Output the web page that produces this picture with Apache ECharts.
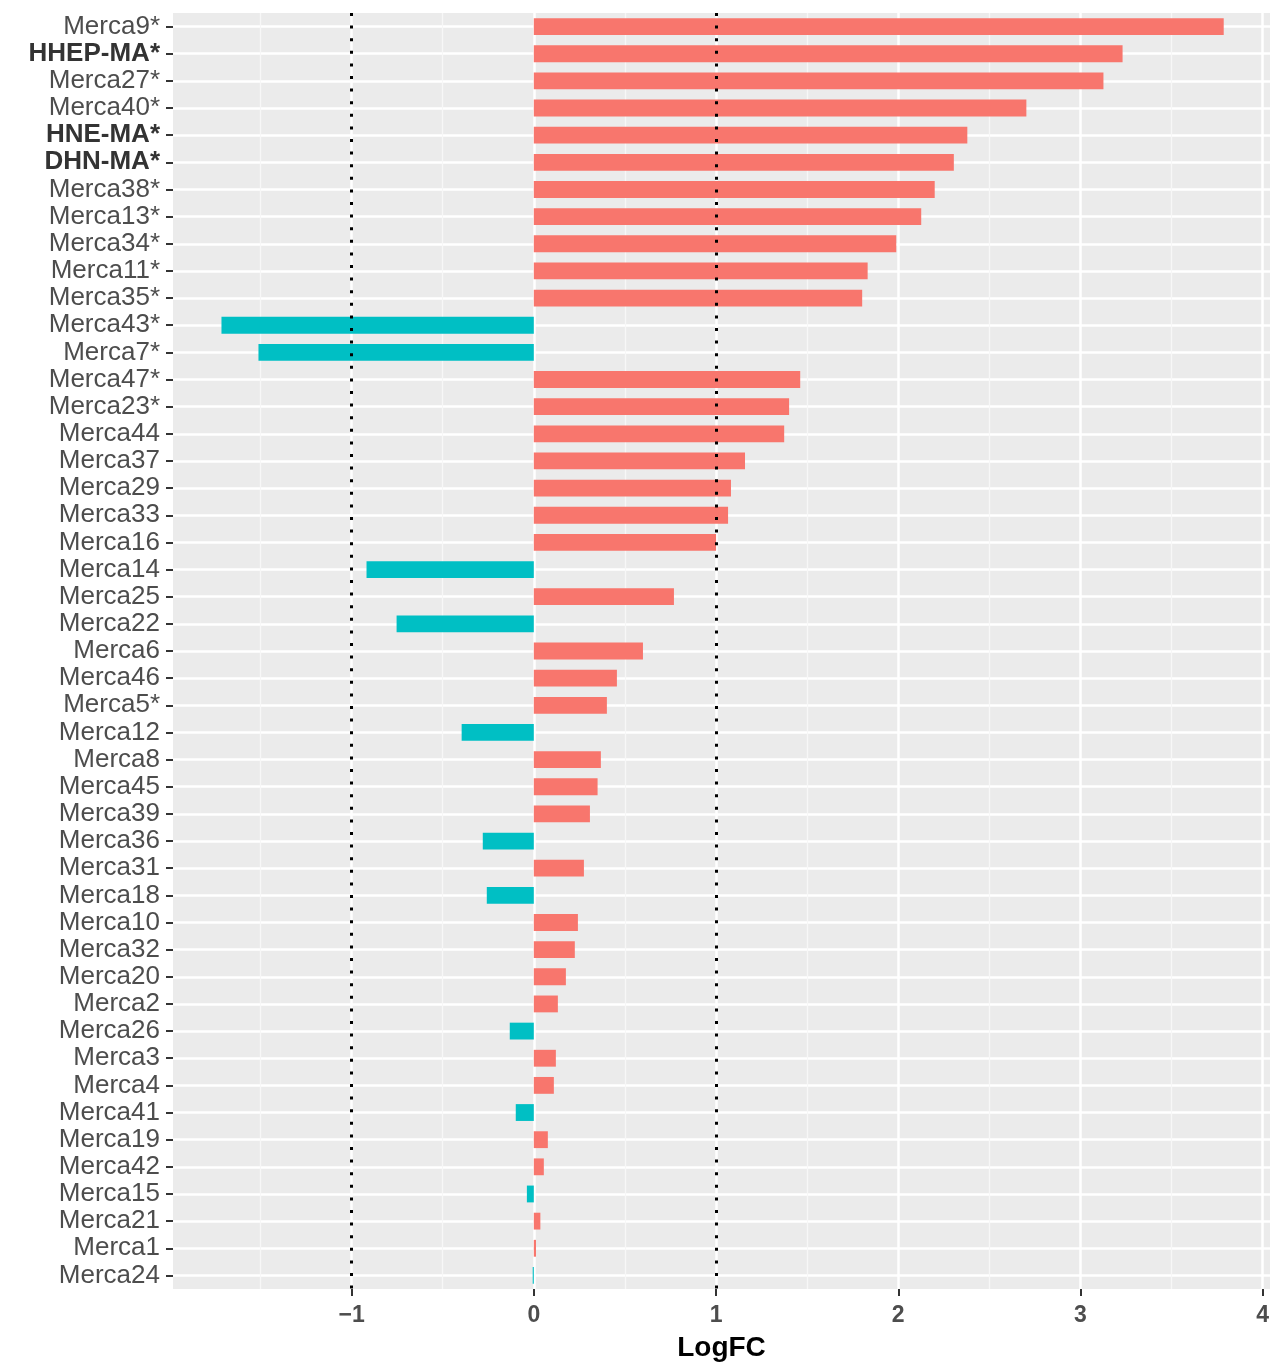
<!DOCTYPE html>
<html>
<head>
<meta charset="utf-8">
<script src="https://cdn.jsdelivr.net/npm/echarts@6/dist/echarts.min.js"></script>
<style>
  html, body { margin: 0; padding: 0; background: #ffffff; }
  #chart { width: 1284px; height: 1367px; }
</style>
</head>
<body>
<div id="chart"></div>
<script>
// Metabolites, ordered top to bottom
const categories = [
  'Merca9*', 'HHEP-MA*', 'Merca27*', 'Merca40*', 'HNE-MA*', 'DHN-MA*', 'Merca38*',
  'Merca13*', 'Merca34*', 'Merca11*', 'Merca35*', 'Merca43*', 'Merca7*', 'Merca47*',
  'Merca23*', 'Merca44', 'Merca37', 'Merca29', 'Merca33', 'Merca16', 'Merca14',
  'Merca25', 'Merca22', 'Merca6', 'Merca46', 'Merca5*', 'Merca12', 'Merca8',
  'Merca45', 'Merca39', 'Merca36', 'Merca31', 'Merca18', 'Merca10', 'Merca32',
  'Merca20', 'Merca2', 'Merca26', 'Merca3', 'Merca4', 'Merca41', 'Merca19',
  'Merca42', 'Merca15', 'Merca21', 'Merca1', 'Merca24'
];

// Log fold change per metabolite
const logFC = [
  3.786, 3.231, 3.126, 2.703, 2.379, 2.305, 2.200,
  2.126, 1.989, 1.832, 1.802, -1.714, -1.511, 1.462,
  1.401, 1.374, 1.159, 1.082, 1.066, 1.000, -0.918,
  0.769, -0.753, 0.599, 0.456, 0.401, -0.396, 0.368,
  0.350, 0.308, -0.280, 0.275, -0.258, 0.242, 0.225,
  0.176, 0.132, -0.132, 0.121, 0.110, -0.099, 0.077,
  0.055, -0.038, 0.036, 0.012, -0.006
];

// Labels set in bold on the category axis
const boldLabels = ['HHEP-MA*', 'HNE-MA*', 'DHN-MA*'];

// Value axis ticks and reference lines
const majorTicks = [-1, 0, 1, 2, 3, 4];
const minorTicks = [-1.5, -0.5, 0.5, 1.5, 2.5, 3.5];
const thresholds = [-1, 1];

const UP = '#F8766D';
const DOWN = '#00BFC4';
const FONT = '"Liberation Sans", Arial, Helvetica, sans-serif';
const X_MIN = -1.98;
const X_MAX = 4.04;

const chart = echarts.init(document.getElementById('chart'), null, { renderer: 'canvas' });

chart.setOption({
  animation: false,
  backgroundColor: '#ffffff',
  grid: {
    left: 173, right: 14, top: 13, bottom: 76,
    show: true, backgroundColor: '#EBEBEB', borderWidth: 0
  },
  xAxis: [
    {
      type: 'value',
      min: X_MIN, max: X_MAX,
      position: 'bottom',
      axisLine: { show: false, onZero: false },
      axisTick: {
        show: true, customValues: majorTicks, length: 7,
        lineStyle: { color: '#333333', width: 2 }
      },
      axisLabel: {
        customValues: majorTicks,
        formatter: v => (v < 0 ? '\u2212' + Math.abs(v) : String(v)),
        fontSize: 23, fontWeight: 'bold', color: '#4D4D4D', fontFamily: FONT, margin: 15
      },
      splitLine: { show: true, lineStyle: { color: '#ffffff', width: 2.5 } },
      name: 'LogFC',
      nameLocation: 'middle',
      nameGap: 45,
      nameTextStyle: { fontSize: 28, fontWeight: 'bold', color: '#000000', fontFamily: FONT }
    },
    {
      type: 'value',
      min: X_MIN, max: X_MAX,
      position: 'bottom',
      axisLine: { show: false, onZero: false },
      axisTick: { show: false, customValues: minorTicks },
      axisLabel: { show: false },
      splitLine: { show: true, lineStyle: { color: '#F7F7F7', width: 1.2 } }
    }
  ],
  yAxis: {
    type: 'category',
    inverse: true,
    position: 'left',
    data: categories,
    axisLine: { show: false, onZero: false },
    axisTick: {
      show: true, alignWithLabel: true, interval: 0, length: 7,
      lineStyle: { color: '#333333', width: 2 }
    },
    axisLabel: {
      interval: 0, margin: 13,
      fontSize: 26, color: '#4D4D4D', fontFamily: FONT,
      formatter: v => (boldLabels.includes(v) ? '{b|' + v + '}' : v),
      rich: {
        b: { fontSize: 26, fontWeight: 'bold', color: '#333333', fontFamily: FONT }
      }
    },
    splitLine: {
      show: true, alignWithLabel: true, interval: 0,
      lineStyle: { color: '#ffffff', width: 2.5 }
    }
  },
  series: [
    {
      type: 'bar',
      xAxisIndex: 0,
      yAxisIndex: 0,
      barWidth: '62%',
      data: logFC.map(v => ({ value: v, itemStyle: { color: v >= 0 ? UP : DOWN } })),
      markLine: {
        silent: true,
        symbol: 'none',
        label: { show: false },
        lineStyle: { color: '#000000', type: [3, 9.6], width: 3 },
        data: thresholds.map(t => ({ xAxis: t }))
      }
    }
  ]
});
</script>
</body>
</html>
